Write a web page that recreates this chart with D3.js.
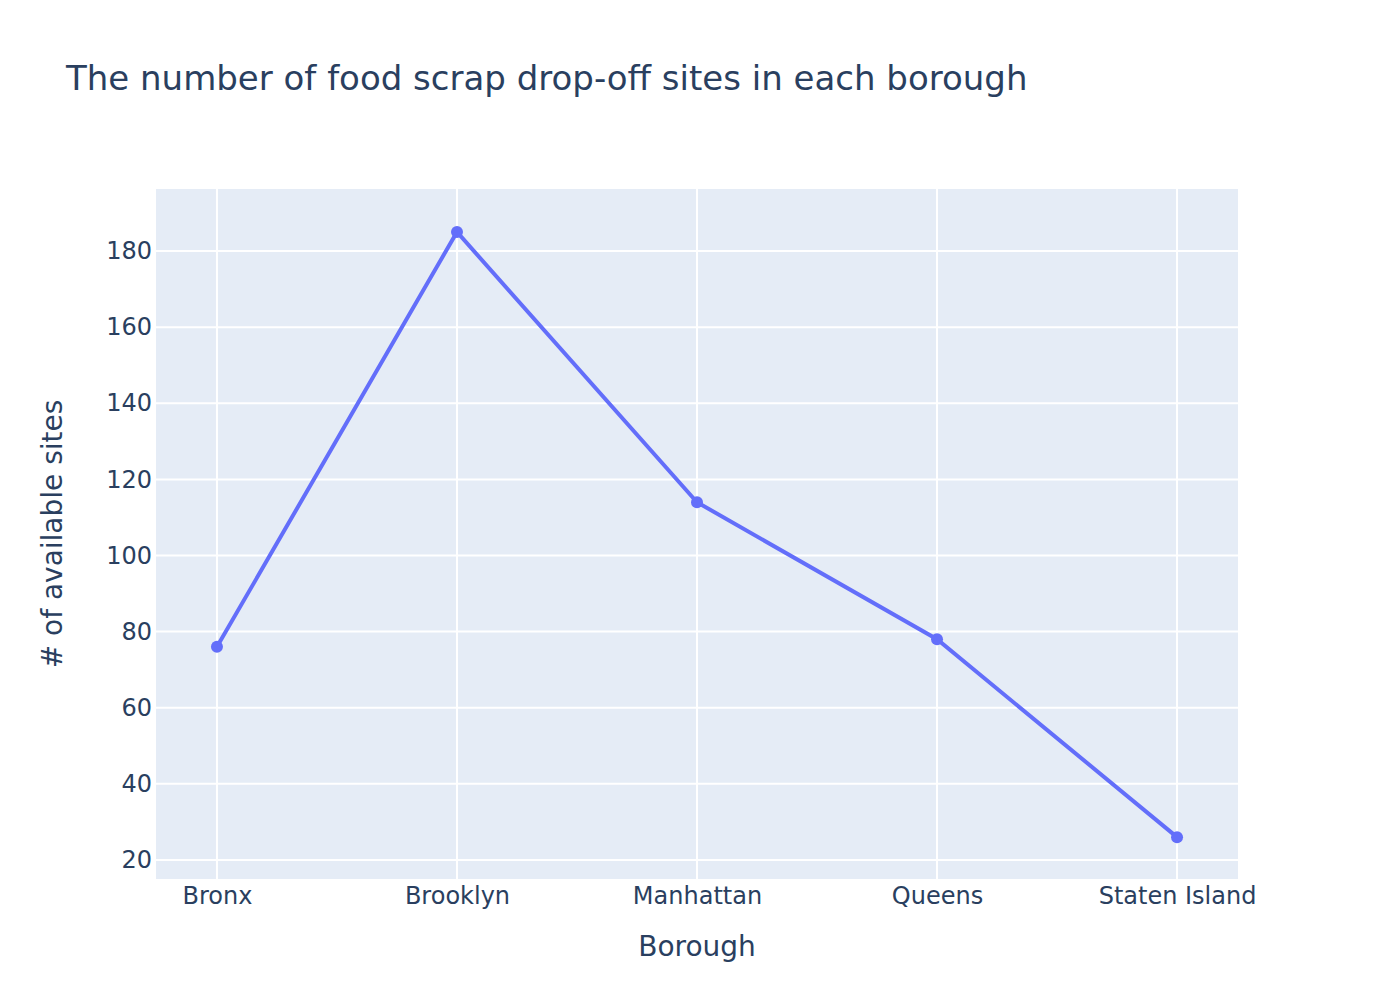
<!DOCTYPE html>
<html>
<head>
<meta charset="utf-8">
<script src="https://cdn.jsdelivr.net/npm/d3@7"></script>
<style>
  body { margin: 0; background: #fff; }
  text { font-family: "DejaVu Sans", Verdana, sans-serif; fill: #2a3f5f; }
</style>
</head>
<body>
<svg id="chart" width="1378" height="1008"></svg>
<script>
// borough data
var boroughs = ["Bronx", "Brooklyn", "Manhattan", "Queens", "Staten Island"];
var sites = [76, 185, 114, 78, 26];
var yTicks = [20, 40, 60, 80, 100, 120, 140, 160, 180];

var svg = d3.select("#chart");
var m = { left: 156, top: 189, right: 1238, bottom: 879 };

// category index scale, padded like plotly's autorange
var x = d3.scaleLinear().domain([-0.254, 4.254]).range([m.left, m.right]);
var y = d3.scaleLinear().domain([15.0, 196.3]).range([m.bottom, m.top]);

svg.append("rect")
    .attr("x", m.left).attr("y", m.top)
    .attr("width", m.right - m.left).attr("height", m.bottom - m.top)
    .attr("fill", "#e5ecf6");

// grid lines
svg.append("g").selectAll("line")
    .data(yTicks)
    .enter().append("line")
    .attr("x1", m.left).attr("x2", m.right)
    .attr("y1", function (d) { return y(d) }).attr("y2", function (d) { return y(d) })
    .attr("stroke", "#fff").attr("stroke-width", 2);

svg.append("g").selectAll("line")
    .data(boroughs)
    .enter().append("line")
    .attr("y1", m.top).attr("y2", m.bottom)
    .attr("x1", function (d, i) { return x(i) }).attr("x2", function (d, i) { return x(i) })
    .attr("stroke", "#fff").attr("stroke-width", 2);

// axes
var yAxis = d3.axisLeft(y).tickValues(yTicks).tickSize(0).tickPadding(4);
var gy = svg.append("g").attr("transform", "translate(" + m.left + ",0)").call(yAxis);
var xAxis = d3.axisBottom(x).tickValues(d3.range(boroughs.length))
    .tickFormat(function (i) { return boroughs[i] }).tickSize(0).tickPadding(8);
var gx = svg.append("g").attr("transform", "translate(0," + m.bottom + ")").call(xAxis);
[gx, gy].forEach(function (g) {
    g.select(".domain").remove();
    g.selectAll("text").attr("font-size", 24).attr("fill", "#2a3f5f")
        .attr("font-family", "DejaVu Sans, Verdana, sans-serif");
});

// line + markers
var line = d3.line()
    .x(function (d, i) { return x(i) })
    .y(function (d) { return y(d) });

svg.append("path")
    .datum(sites)
    .attr("d", line)
    .attr("fill", "none")
    .attr("stroke", "#636efa")
    .attr("stroke-width", 4);

svg.append("g").selectAll("circle")
    .data(sites)
    .enter().append("circle")
    .attr("cx", function (d, i) { return x(i) })
    .attr("cy", function (d) { return y(d) })
    .attr("r", 6)
    .attr("fill", "#636efa");

// titles
svg.append("text")
    .attr("x", 66).attr("y", 90)
    .attr("font-size", 34)
    .text("The number of food scrap drop-off sites in each borough");

svg.append("text")
    .attr("x", (m.left + m.right) / 2).attr("y", 956)
    .attr("text-anchor", "middle")
    .attr("font-size", 28)
    .text("Borough");

svg.append("text")
    .attr("transform", "translate(62," + ((m.top + m.bottom) / 2) + ") rotate(-90)")
    .attr("text-anchor", "middle")
    .attr("font-size", 28)
    .text("# of available sites");
</script>
</body>
</html>
